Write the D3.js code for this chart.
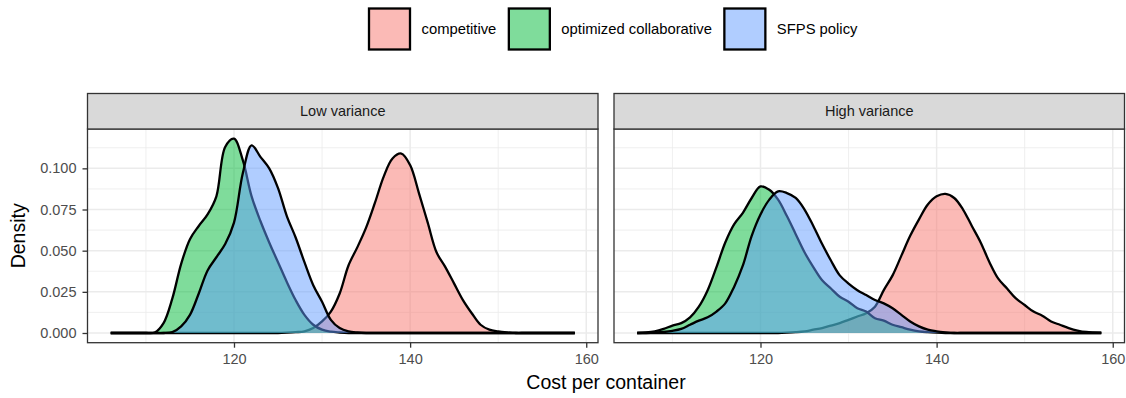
<!DOCTYPE html>
<html>
<head>
<meta charset="utf-8">
<script src="https://cdn.jsdelivr.net/npm/d3@7"></script>
<style>
  body { margin: 0; background: #fff; }
  svg text { font-family: "Liberation Sans", Arial, sans-serif; }
</style>
</head>
<body>
<svg id="chart" width="1126" height="398"></svg>
<script>
// Evaluation grid for the density estimates (cost per container)
const costs = [106, 107, 108, 109, 110, 111, 112, 113, 114, 115, 116, 117, 118, 119, 120,
  121, 122, 123, 124, 125, 126, 127, 128, 129, 130, 131, 132, 133, 134, 135, 136, 137, 138,
  139, 140, 141, 142, 143, 144, 145, 146, 147, 148, 149, 150, 151, 152, 153, 154, 155, 156,
  157, 158.7];

const panels = ["Low variance", "High variance"];
const policies = ["competitive", "optimized collaborative", "SFPS policy"];
const policyColors = ["#F8766D", "#00BA38", "#619CFF"];

// Low variance scenario densities
const lowCompetitive = [0, 0, 0, 0, 0, 0, 0, 0, 0, 0, 0, 0, 0, 0, 0, 0, 0, 0, 0, 0,
  0.0002, 0.0005, 0.001, 0.003, 0.007, 0.013, 0.024, 0.041, 0.052, 0.064, 0.079, 0.095, 0.106,
  0.109, 0.102, 0.085, 0.067, 0.049, 0.040, 0.030, 0.020, 0.012, 0.005, 0.002, 0.001, 0.0004,
  0, 0, 0, 0, 0, 0, 0];
const lowCollaborative = [0, 0, 0, 0, 0, 0.0003, 0.006, 0.021, 0.042, 0.057, 0.065, 0.072,
  0.083, 0.113, 0.118, 0.105, 0.083, 0.068, 0.055, 0.043, 0.031, 0.020, 0.011, 0.005, 0.002,
  0.0008, 0.0003, 0, 0, 0, 0, 0, 0, 0, 0, 0, 0, 0, 0, 0, 0, 0, 0, 0, 0, 0, 0, 0, 0, 0, 0, 0, 0];
const lowSfps = [0, 0, 0, 0, 0, 0, 0, 0.0005, 0.004, 0.011, 0.024, 0.038, 0.046, 0.054,
  0.067, 0.097, 0.114, 0.107, 0.100, 0.088, 0.071, 0.058, 0.043, 0.029, 0.019, 0.008, 0.003,
  0.001, 0.0003, 0, 0, 0, 0, 0, 0, 0, 0, 0, 0, 0, 0, 0, 0, 0, 0, 0, 0, 0, 0, 0, 0, 0, 0];

// High variance scenario densities
const highCompetitive = [0, 0, 0, 0, 0, 0, 0, 0, 0, 0, 0, 0, 0, 0, 0, 0, 0,
  0.0002, 0.0005, 0.001, 0.002, 0.003, 0.0045, 0.006, 0.008, 0.010, 0.012, 0.016, 0.026,
  0.035, 0.047, 0.059, 0.069, 0.078, 0.083, 0.0845, 0.082, 0.075, 0.065, 0.055, 0.043, 0.033,
  0.027, 0.021, 0.017, 0.013, 0.0105, 0.007, 0.005, 0.003, 0.0015, 0.0006, 0.0002];
const highCollaborative = [0, 0.0003, 0.001, 0.0025, 0.0045, 0.006, 0.0095, 0.016, 0.026,
  0.040, 0.055, 0.066, 0.073, 0.082, 0.089, 0.087, 0.081, 0.071, 0.060, 0.049, 0.040, 0.032,
  0.027, 0.022, 0.019, 0.015, 0.013, 0.009, 0.0075, 0.005, 0.0035, 0.002, 0.001, 0.0005,
  0.0002, 0, 0, 0, 0, 0, 0, 0, 0, 0, 0, 0, 0, 0, 0, 0, 0, 0, 0];
const highSfps = [0, 0, 0.0002, 0.0006, 0.0013, 0.0025, 0.005, 0.0075, 0.0095, 0.013,
  0.018, 0.028, 0.041, 0.059, 0.072, 0.081, 0.086, 0.085, 0.082, 0.075, 0.065, 0.054, 0.044,
  0.035, 0.030, 0.026, 0.023, 0.020, 0.018, 0.015, 0.011, 0.007, 0.004, 0.002, 0.001, 0.0004,
  0, 0, 0, 0, 0, 0, 0, 0, 0, 0, 0, 0, 0, 0, 0, 0, 0];

const xTicks = [120, 140, 160];
const xMinor = [110, 130, 150];
const yTicks = [0, 0.025, 0.05, 0.075, 0.1];
const yMinor = [0.0125, 0.0375, 0.0625, 0.0875, 0.1125];

const panelSeries = [
  [lowCompetitive, lowCollaborative, lowSfps],
  [highCompetitive, highCollaborative, highSfps]
];

const svg = d3.select("#chart");

// Layout
const panelTop = 129, panelBottom = 342.7;
const stripTop = 93.5;
const panelLefts = [87.5, 614];
const panelWidth = 510.5;

// Shared scales with 5% expansion, as in the faceted plot
const xExt = d3.extent(costs);
const xPad = (xExt[1] - xExt[0]) * 0.05;
const yMax = d3.max(panelSeries.flat(2));
const yPad = yMax * 0.05;
const y = d3.scaleLinear().domain([-yPad, yMax + yPad]).range([panelBottom, panelTop]);

const curve = d3.curveCatmullRom.alpha(0.5);
const grey20 = "#333333";

panels.forEach((name, pi) => {
  const x0 = panelLefts[pi];
  const x = d3.scaleLinear().domain([xExt[0] - xPad, xExt[1] + xPad]).range([x0, x0 + panelWidth]);
  const g = svg.append("g");

  g.append("rect").attr("x", x0).attr("y", panelTop).attr("width", panelWidth)
    .attr("height", panelBottom - panelTop).attr("fill", "#fff");

  // grid
  g.selectAll(".vminor").data(xMinor).join("line")
    .attr("x1", d => x(d)).attr("x2", d => x(d)).attr("y1", panelTop).attr("y2", panelBottom)
    .attr("stroke", "#EBEBEB").attr("stroke-width", 0.8);
  g.selectAll(".hminor").data(yMinor).join("line")
    .attr("y1", d => y(d)).attr("y2", d => y(d)).attr("x1", x0).attr("x2", x0 + panelWidth)
    .attr("stroke", "#EBEBEB").attr("stroke-width", 0.8);
  g.selectAll(".vmajor").data(xTicks).join("line")
    .attr("x1", d => x(d)).attr("x2", d => x(d)).attr("y1", panelTop).attr("y2", panelBottom)
    .attr("stroke", "#EBEBEB").attr("stroke-width", 1.5);
  g.selectAll(".hmajor").data(yTicks).join("line")
    .attr("y1", d => y(d)).attr("y2", d => y(d)).attr("x1", x0).attr("x2", x0 + panelWidth)
    .attr("stroke", "#EBEBEB").attr("stroke-width", 1.5);

  // densities, drawn in policy order: fill then outline
  const area = d3.area().x(d => x(d[0])).y0(y(0)).y1(d => y(d[1])).curve(curve);
  const line = d3.line().x(d => x(d[0])).y(d => y(d[1])).curve(curve);
  panelSeries[pi].forEach((vals, si) => {
    const pts = costs.map((c, i) => [c, vals[i]]);
    g.append("path").attr("d", area(pts)).attr("fill", policyColors[si]).attr("fill-opacity", 0.5);
    g.append("path").attr("d", line(pts)).attr("fill", "none").attr("stroke", "#000")
      .attr("stroke-width", 2.3).attr("stroke-linejoin", "round");
  });

  // panel border
  g.append("rect").attr("x", x0).attr("y", panelTop).attr("width", panelWidth)
    .attr("height", panelBottom - panelTop).attr("fill", "none")
    .attr("stroke", grey20).attr("stroke-width", 1.3);

  // strip
  g.append("rect").attr("x", x0).attr("y", stripTop).attr("width", panelWidth)
    .attr("height", panelTop - stripTop).attr("fill", "#D9D9D9")
    .attr("stroke", grey20).attr("stroke-width", 1.3);
  g.append("text").attr("x", x0 + panelWidth / 2).attr("y", (stripTop + panelTop) / 2)
    .attr("dy", "0.35em").attr("text-anchor", "middle").attr("font-size", 14.5)
    .attr("fill", "#1A1A1A").text(name);

  // x axis
  const xa = g.append("g").attr("transform", `translate(0,${panelBottom})`)
    .call(d3.axisBottom(x).tickValues(xTicks).tickSize(5).tickPadding(6).tickFormat(d3.format("d")));
  xa.select(".domain").remove();
  xa.selectAll(".tick line").attr("stroke", grey20).attr("stroke-width", 1.3);
  xa.selectAll(".tick text").attr("fill", "#4D4D4D").attr("font-size", 14.5)
    .attr("font-family", "Liberation Sans, Arial, sans-serif");

  if (pi === 0) {
    const ya = g.append("g").attr("transform", `translate(${x0},0)`)
      .call(d3.axisLeft(y).tickValues(yTicks).tickSize(5).tickPadding(6).tickFormat(d3.format(".3f")));
    ya.select(".domain").remove();
    ya.selectAll(".tick line").attr("stroke", grey20).attr("stroke-width", 1.3);
    ya.selectAll(".tick text").attr("fill", "#4D4D4D").attr("font-size", 14.5)
      .attr("font-family", "Liberation Sans, Arial, sans-serif");
  }
});

// axis titles
svg.append("text").attr("x", (panelLefts[0] + panelLefts[1] + panelWidth) / 2).attr("y", 389)
  .attr("text-anchor", "middle").attr("font-size", 19.5).attr("fill", "#000")
  .text("Cost per container");
svg.append("text").attr("transform", `translate(25,${(panelTop + panelBottom) / 2}) rotate(-90)`)
  .attr("text-anchor", "middle").attr("font-size", 19.5).attr("fill", "#000")
  .text("Density");

// legend
const legend = svg.append("g");
const keySize = 41, keyTop = 8.5;
let lx = 369;
policies.forEach((p, i) => {
  legend.append("rect").attr("x", lx).attr("y", keyTop).attr("width", keySize).attr("height", keySize)
    .attr("fill", policyColors[i]).attr("fill-opacity", 0.5)
    .attr("stroke", "#000").attr("stroke-width", 2.3);
  const t = legend.append("text").attr("x", lx + keySize + 11.5).attr("y", keyTop + keySize / 2)
    .attr("dy", "0.35em").attr("font-size", 14.8).attr("fill", "#000").text(p);
  lx += keySize + 11.5 + t.node().getComputedTextLength() + 12.5;
});
</script>
</body>
</html>
